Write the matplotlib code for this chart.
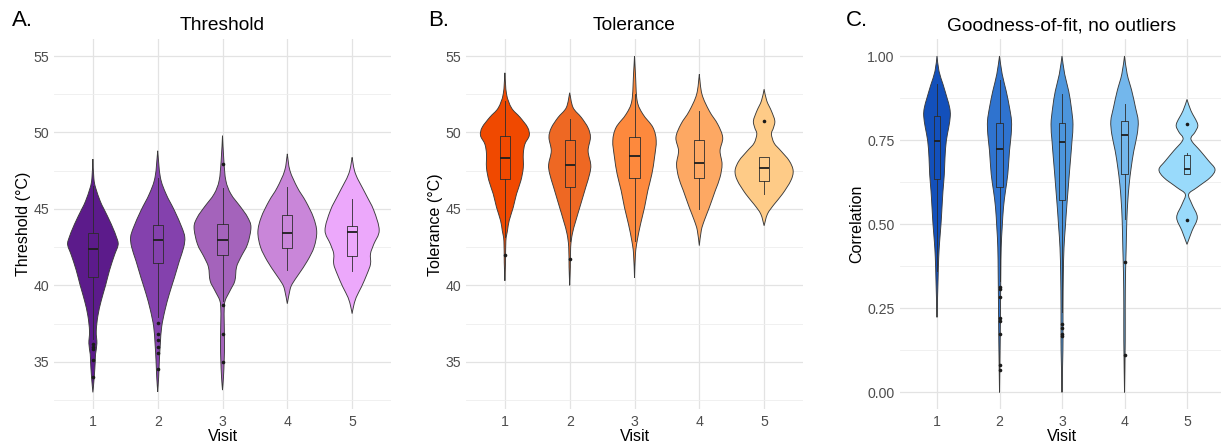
import numpy as np
import matplotlib
matplotlib.use("Agg")
import matplotlib.pyplot as plt
from matplotlib.path import Path
from matplotlib.patches import PathPatch
from matplotlib.ticker import MultipleLocator, FormatStrFormatter

plt.rcParams['font.family'] = ['Liberation Sans', 'DejaVu Sans']

visits = ['1', '2', '3', '4', '5']

# ---- A. Threshold ----
# violin outlines: value levels and half-width (in visit units)
thr_levels = [
    [33.0, 34.0, 35.0, 35.5, 36.2, 37.0, 38.0, 39.0, 40.0, 41.0, 42.0, 42.6, 43.0, 44.0, 45.0, 45.5, 46.4, 47.0, 48.26],
    [33.04, 34.0, 35.1, 36.2, 37.3, 38.4, 39.46, 40.5, 41.6, 42.5, 43.15, 43.8, 44.9, 45.98, 47.07, 48.8],
    [33.15, 34.0, 35.1, 36.2, 37.7, 38.4, 39.0, 39.67, 40.3, 41.2, 41.85, 42.7, 43.8, 44.46, 45.1, 45.98, 46.85, 48.15, 49.8],
    [38.8, 39.7, 40.1, 40.76, 41.6, 42.5, 43.5, 44.46, 45.5, 46.4, 47.5, 48.6],
    [38.15, 38.6, 39.2, 39.9, 40.76, 41.4, 42.07, 42.7, 43.6, 44.9, 46.0, 47.3, 48.37],
]
thr_half = [
    [0, 0.021, 0.036, 0.041, 0.062, 0.052, 0.077, 0.129, 0.196, 0.258, 0.335, 0.387, 0.377, 0.284, 0.170, 0.114, 0.041, 0.015, 0],
    [0, 0.015, 0.026, 0.041, 0.062, 0.114, 0.181, 0.258, 0.335, 0.402, 0.418, 0.372, 0.258, 0.129, 0.041, 0],
    [0, 0.015, 0.026, 0.031, 0.026, 0.026, 0.041, 0.119, 0.191, 0.217, 0.284, 0.387, 0.439, 0.387, 0.284, 0.129, 0.052, 0.021, 0],
    [0, 0.041, 0.077, 0.181, 0.310, 0.413, 0.454, 0.402, 0.284, 0.155, 0.041, 0],
    [0, 0.021, 0.062, 0.144, 0.232, 0.284, 0.284, 0.335, 0.418, 0.335, 0.206, 0.052, 0],
]
thr_med = [42.39, 42.98, 42.98, 43.43, 43.48]
thr_q1 = [40.54, 41.46, 41.96, 42.46, 41.89]
thr_q3 = [43.43, 43.96, 44.02, 44.63, 43.87]
thr_lo = [36.5, 37.9, 39.0, 40.98, 40.93]
thr_hi = [46.5, 47.0, 46.4, 46.46, 45.65]
thr_out = [[36.15, 36.0, 35.87, 35.1, 34.0],
           [37.57, 36.8, 36.4, 36.0, 35.6, 34.5],
           [47.93, 38.74, 36.8, 35.0], [], []]

# ---- B. Tolerance ----
tol_levels = [
    [40.3, 41.5, 42.9, 43.6, 44.24, 45.1, 45.98, 46.85, 47.7, 48.6, 49.24, 49.8, 50.33, 51.0, 51.6, 52.5, 53.9],
    [40.0, 41.2, 42.5, 43.37, 44.2, 45.3, 46.4, 47.3, 47.9, 48.8, 49.67, 50.3, 50.98, 51.63, 52.6],
    [40.5, 42.07, 42.9, 44.0, 45.1, 46.2, 47.28, 48.37, 49.46, 50.33, 51.2, 52.07, 53.8, 55.0],
    [42.6, 43.6, 44.24, 45.1, 46.2, 47.07, 47.93, 48.8, 49.67, 50.54, 51.4, 52.5, 53.8],
    [43.9, 44.67, 45.3, 45.98, 46.85, 47.5, 48.15, 48.8, 49.3, 49.9, 50.3, 50.76, 51.4, 52.07, 52.83],
]
tol_half = [
    [0, 0.010, 0.015, 0.041, 0.067, 0.129, 0.180, 0.247, 0.284, 0.284, 0.309, 0.376, 0.351, 0.232, 0.103, 0.026, 0],
    [0, 0.010, 0.015, 0.041, 0.093, 0.170, 0.247, 0.309, 0.325, 0.284, 0.320, 0.284, 0.180, 0.052, 0],
    [0, 0.015, 0.041, 0.093, 0.155, 0.206, 0.268, 0.309, 0.335, 0.284, 0.129, 0.041, 0.015, 0],
    [0, 0.031, 0.077, 0.155, 0.247, 0.320, 0.351, 0.320, 0.361, 0.284, 0.155, 0.041, 0],
    [0, 0.052, 0.155, 0.284, 0.412, 0.448, 0.387, 0.258, 0.155, 0.113, 0.144, 0.165, 0.113, 0.041, 0],
]
tol_med = [48.3, 47.9, 48.48, 47.98, 47.67]
tol_q1 = [46.96, 46.46, 47.0, 47.0, 46.85]
tol_q3 = [49.74, 49.5, 49.72, 49.5, 48.37]
tol_lo = [43.15, 42.9, 42.9, 45.0, 45.98]
tol_hi = [52.07, 50.87, 52.5, 51.4, 48.37]
tol_out = [[42.0], [41.74], [], [], [50.72]]

# ---- C. Goodness-of-fit ----
cor_levels = [
    [0.223, 0.33, 0.40, 0.45, 0.50, 0.55, 0.599, 0.648, 0.698, 0.748, 0.787, 0.822, 0.846, 0.876, 0.916, 0.955, 1.0],
    [0.0, 0.153, 0.252, 0.351, 0.43, 0.49, 0.55, 0.599, 0.649, 0.718, 0.767, 0.807, 0.847, 0.896, 0.946, 1.0],
    [0.0, 0.094, 0.153, 0.252, 0.35, 0.43, 0.49, 0.55, 0.599, 0.649, 0.698, 0.748, 0.797, 0.847, 0.896, 0.946, 1.0],
    [0.0, 0.153, 0.252, 0.351, 0.43, 0.51, 0.569, 0.619, 0.668, 0.718, 0.767, 0.807, 0.847, 0.896, 0.946, 1.0],
    [0.44, 0.48, 0.52, 0.559, 0.589, 0.609, 0.639, 0.663, 0.688, 0.718, 0.752, 0.775, 0.797, 0.837, 0.871],
]
cor_half = [
    [0, 0.016, 0.027, 0.043, 0.064, 0.080, 0.096, 0.117, 0.128, 0.149, 0.187, 0.213, 0.203, 0.160, 0.096, 0.032, 0],
    [0, 0.011, 0.016, 0.021, 0.027, 0.043, 0.064, 0.096, 0.133, 0.160, 0.187, 0.192, 0.160, 0.107, 0.043, 0],
    [0, 0.011, 0.016, 0.016, 0.021, 0.032, 0.053, 0.075, 0.096, 0.117, 0.139, 0.160, 0.176, 0.149, 0.107, 0.043, 0],
    [0, 0.011, 0.011, 0.016, 0.027, 0.037, 0.053, 0.075, 0.107, 0.149, 0.203, 0.219, 0.176, 0.117, 0.043, 0],
    [0, 0.080, 0.165, 0.080, 0.027, 0.160, 0.373, 0.448, 0.347, 0.213, 0.064, 0.133, 0.171, 0.064, 0],
]
cor_med = [0.748, 0.723, 0.743, 0.764, 0.665]
cor_q1 = [0.634, 0.611, 0.571, 0.649, 0.650]
cor_q3 = [0.822, 0.802, 0.801, 0.807, 0.705]
cor_lo = [0.36, 0.33, 0.24, 0.515, 0.650]
cor_hi = [0.916, 0.93, 0.886, 0.856, 0.712]
cor_out = [[], [0.314, 0.307, 0.285, 0.221, 0.213, 0.175, 0.082, 0.066],
           [0.203, 0.191, 0.175, 0.168], [0.388, 0.112], [0.797, 0.512]]

purples = ['#5c1b8b', '#8441ad', '#a463bb', '#c986d9', '#eca8fb']
oranges = ['#f04900', '#ee6823', '#fd893d', '#fda863', '#fecb87']
blues = ['#1350bb', '#2f73cf', '#4c95dc', '#73b7ec', '#99dafb']


def side(levels, half, c, sign):
    # smooth curve through the read outline points (Catmull-Rom as Bezier)
    pts = np.column_stack([c + sign * np.asarray(half, float), np.asarray(levels, float)])
    ext = np.vstack([pts[0], pts, pts[-1]])
    verts = [pts[0]]
    for i in range(len(pts) - 1):
        p0, p1, p2, p3 = ext[i], ext[i + 1], ext[i + 2], ext[i + 3]
        verts += [p1 + (p2 - p0) / 6, p2 - (p3 - p1) / 6, p2]
    return verts


def violin(ax, levels, half, c, color):
    right = side(levels, half, c, 1)
    left = side(levels, half, c, -1)[::-1]
    verts = right + left[1:] + [right[0]]
    codes = [Path.MOVETO] + [Path.CURVE4] * (len(verts) - 2) + [Path.CLOSEPOLY]
    ax.add_patch(PathPatch(Path(verts, codes), facecolor=color,
                           edgecolor='#3a3a3a', lw=0.65, zorder=2))


def panel(ax, levels, half, med, q1, q3, lo, hi, out, colors, box_w):
    for i in range(len(visits)):
        violin(ax, levels[i], half[i], i + 1, colors[i])
    stats = [dict(med=med[i], q1=q1[i], q3=q3[i], whislo=lo[i], whishi=hi[i],
                  fliers=out[i]) for i in range(len(visits))]
    ax.bxp(stats, positions=range(1, 6), widths=box_w, showcaps=False,
           boxprops=dict(color='#2b2b2b', lw=0.7, alpha=0.85),
           whiskerprops=dict(color='#2b2b2b', lw=0.7, alpha=0.85),
           medianprops=dict(color='#1e1e1e', lw=1.3),
           flierprops=dict(marker='o', markersize=2.6, markerfacecolor='#1a1a1a',
                           markeredgecolor='none'),
           zorder=3)
    ax.set_xlim(0.4, 5.6)
    ax.set_xticks(range(1, 6))
    ax.set_xticklabels(visits)
    for s in ax.spines.values():
        s.set_visible(False)
    ax.tick_params(which='both', length=0, labelsize=10.2, labelcolor='#4d4d4d')
    ax.tick_params(axis='y', pad=3.5)
    ax.tick_params(axis='x', pad=4)
    ax.set_axisbelow(True)
    ax.grid(which='major', color='#e3e3e3', lw=0.9)
    ax.grid(which='minor', axis='y', color='#eeeeee', lw=0.6)
    ax.set_xlabel('Visit', fontsize=11.5, labelpad=0)


W, H = 1221, 444
fig = plt.figure(figsize=(W / 100, H / 100), dpi=100)
top, bottom = 39.2, 409.2
boxes = [(54, 391), (466, 803), (899.5, 1224.5)]
axes = [fig.add_axes([l / W, 1 - bottom / H, (r - l) / W, (bottom - top) / H]) for l, r in boxes]

panel(axes[0], thr_levels, thr_half, thr_med, thr_q1, thr_q3, thr_lo, thr_hi, thr_out, purples, 0.16)
panel(axes[1], tol_levels, tol_half, tol_med, tol_q1, tol_q3, tol_lo, tol_hi, tol_out, oranges, 0.16)
panel(axes[2], cor_levels, cor_half, cor_med, cor_q1, cor_q3, cor_lo, cor_hi, cor_out, blues, 0.10)

for ax in axes[:2]:
    ax.set_ylim(31.9, 56.1)
    ax.set_yticks([35, 40, 45, 50, 55])
    ax.yaxis.set_minor_locator(MultipleLocator(2.5))
axes[2].set_ylim(-0.05, 1.05)
axes[2].set_yticks([0, 0.25, 0.5, 0.75, 1.0])
axes[2].yaxis.set_major_formatter(FormatStrFormatter('%.2f'))
axes[2].yaxis.set_minor_locator(MultipleLocator(0.125))

axes[0].set_ylabel('Threshold (°C)', fontsize=11.5, labelpad=2)
axes[1].set_ylabel('Tolerance (°C)', fontsize=11.5, labelpad=2)
axes[2].set_ylabel('Correlation', fontsize=11.5, labelpad=2)

titles = ['Threshold', 'Tolerance', 'Goodness-of-fit, no outliers']
letters = ['A.', 'B.', 'C.']
letter_x = [12, 428, 846]
for ax, t, lt, lx in zip(axes, titles, letters, letter_x):
    ax.set_title(t, fontsize=13.8, pad=6.5)
    fig.text(lx / W, 1 - 26 / H, lt, fontsize=16, va='baseline', ha='left')

fig.savefig('out.png', dpi=100)
